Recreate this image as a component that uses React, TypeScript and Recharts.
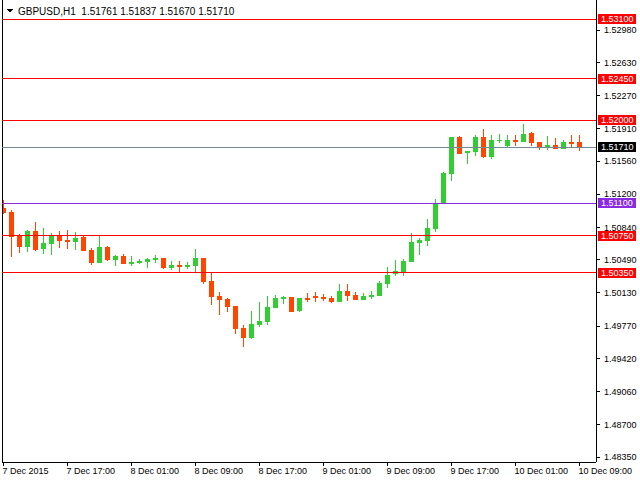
import React from 'react';
import { ComposedChart, Bar, XAxis, YAxis, ReferenceLine } from 'recharts';

// GBPUSD H1 candles, 7 Dec 09:00 .. 10 Dec 09:00
const timeLabels = [
  '7 Dec 2015', '7 Dec 17:00', '8 Dec 01:00', '8 Dec 09:00', '8 Dec 17:00',
  '9 Dec 01:00', '9 Dec 09:00', '9 Dec 17:00', '10 Dec 01:00', '10 Dec 09:00',
];

const opens = [
  1.51050, 1.51007, 1.50747, 1.50627, 1.50801, 1.50606, 1.50660, 1.50757, 1.50703, 1.50682,
  1.50736, 1.50595, 1.50454, 1.50627, 1.50486, 1.50530, 1.50443, 1.50454, 1.50465, 1.50486,
  1.50508, 1.50400, 1.50432, 1.50410, 1.50421, 1.50508, 1.50259, 1.50096, 1.50063, 1.49988,
  1.49749, 1.49640, 1.49781, 1.49814, 1.49966, 1.50063, 1.50085, 1.49933, 1.50074, 1.50096,
  1.50085, 1.50074, 1.50031, 1.50150, 1.50107, 1.50053, 1.50085, 1.50096, 1.50226, 1.50335,
  1.50345, 1.50465, 1.50671, 1.50692, 1.50823, 1.51094, 1.51419, 1.51820, 1.51647, 1.51658,
  1.51820, 1.51603, 1.51777, 1.51723, 1.51788, 1.51766, 1.51864, 1.51766, 1.51701, 1.51734,
  1.51690, 1.51766, 1.51761,
];
const highs = [
  1.51137, 1.51029, 1.50768, 1.50812, 1.50898, 1.50833, 1.50779, 1.50801, 1.50812, 1.50790,
  1.50747, 1.50616, 1.50757, 1.50638, 1.50541, 1.50551, 1.50530, 1.50497, 1.50508, 1.50541,
  1.50508, 1.50476, 1.50476, 1.50465, 1.50606, 1.50508, 1.50345, 1.50139, 1.50074, 1.49988,
  1.49781, 1.49933, 1.50031, 1.50096, 1.50107, 1.50096, 1.50085, 1.50074, 1.50129, 1.50139,
  1.50118, 1.50096, 1.50226, 1.50226, 1.50139, 1.50129, 1.50150, 1.50259, 1.50410, 1.50486,
  1.50497, 1.50779, 1.50725, 1.50931, 1.51148, 1.51441, 1.51820, 1.51831, 1.51668, 1.51842,
  1.51907, 1.51842, 1.51853, 1.51842, 1.51842, 1.51961, 1.51875, 1.51766, 1.51831, 1.51809,
  1.51788, 1.51842, 1.51837,
];
const lows = [
  1.50985, 1.50519, 1.50562, 1.50573, 1.50584, 1.50551, 1.50541, 1.50616, 1.50606, 1.50595,
  1.50584, 1.50432, 1.50454, 1.50476, 1.50421, 1.50443, 1.50421, 1.50443, 1.50400, 1.50454,
  1.50389, 1.50378, 1.50356, 1.50389, 1.50356, 1.50226, 1.49998, 1.49890, 1.49922, 1.49684,
  1.49543, 1.49630, 1.49760, 1.49781, 1.49966, 1.50009, 1.49922, 1.49922, 1.50031, 1.50031,
  1.50042, 1.50020, 1.50031, 1.50042, 1.50053, 1.50053, 1.50063, 1.50096, 1.50183, 1.50313,
  1.50313, 1.50465, 1.50541, 1.50638, 1.50790, 1.51094, 1.51343, 1.51636, 1.51527, 1.51614,
  1.51593, 1.51582, 1.51755, 1.51712, 1.51723, 1.51766, 1.51723, 1.51679, 1.51679, 1.51690,
  1.51690, 1.51701, 1.51670,
];
const closes = [
  1.50996, 1.50736, 1.50627, 1.50801, 1.50595, 1.50671, 1.50757, 1.50692, 1.50682, 1.50725,
  1.50584, 1.50454, 1.50627, 1.50486, 1.50530, 1.50443, 1.50465, 1.50476, 1.50497, 1.50508,
  1.50400, 1.50432, 1.50410, 1.50432, 1.50508, 1.50248, 1.50085, 1.50053, 1.49977, 1.49738,
  1.49640, 1.49792, 1.49825, 1.49977, 1.50074, 1.50085, 1.49922, 1.50074, 1.50053, 1.50074,
  1.50063, 1.50031, 1.50150, 1.50096, 1.50053, 1.50096, 1.50107, 1.50237, 1.50324, 1.50367,
  1.50476, 1.50682, 1.50703, 1.50833, 1.51105, 1.51430, 1.51820, 1.51636, 1.51668, 1.51820,
  1.51603, 1.51788, 1.51788, 1.51788, 1.51766, 1.51853, 1.51755, 1.51701, 1.51734, 1.51690,
  1.51766, 1.51744, 1.51710,
];

const priceTicks = [
  1.52980, 1.52630, 1.52270, 1.51910, 1.51560, 1.51200, 1.50840,
  1.50490, 1.50130, 1.49770, 1.49420, 1.49060, 1.48700, 1.48350,
];
const redLevels = [1.53100, 1.52450, 1.52000, 1.50750, 1.50350];
const purpleLevel = 1.51100;
const bidLevel = 1.51710;

const UP = '#32cd32';
const DOWN = '#ff4500';
const FONT = '"Liberation Sans", Arial, sans-serif';

const X_MIN = -0.1875;
const X_MAX = 74.0625;
const Y_MIN = 1.482958;
const Y_MAX = 1.533061;

const candles = opens.map((open, i) => ({
  idx: i,
  open,
  high: highs[i],
  low: lows[i],
  close: closes[i],
  range: [lows[i], highs[i]],
}));

const timeTicks = timeLabels.map((_, k) => k * 8);

const Candle = (props: any) => {
  const { x, y, width, height, payload } = props;
  if (x == null || y == null || !payload) return null;
  const { open, close, high, low } = payload;
  const span = high - low;
  const py = (p: number) => (span > 0 ? y + ((high - p) / span) * height : y);
  const cx = x + width / 2;
  const color = close >= open ? UP : DOWN;
  const top = Math.min(py(open), py(close));
  const h = Math.max(1, Math.abs(py(open) - py(close)));
  return (
    <g>
      <line x1={cx} x2={cx} y1={y} y2={y + height} stroke={color} strokeWidth={1} />
      <rect x={cx - 2.5} y={top} width={5} height={h} fill={color} />
    </g>
  );
};

const PriceTag = ({ viewBox, value, bg }: any) => {
  if (!viewBox) return null;
  const left = viewBox.x + viewBox.width + 2;
  const yy = viewBox.y;
  return (
    <g>
      <rect x={left} y={yy - 5} width={38} height={10} fill={bg} />
      <text x={left + 3} y={yy} dy="0.34em" fontSize={9} fontFamily={FONT} fill="#fff">
        {value.toFixed(5)}
      </text>
    </g>
  );
};

const TimeTick = (props: any) => {
  const { x, y, payload } = props;
  return (
    <text x={x - 1} y={y} dy="0.71em" fontSize={9} fontFamily={FONT} fill="#000" textAnchor="start">
      {timeLabels[payload.value / 8]}
    </text>
  );
};

export default function App() {
  return (
    <div
      style={{
        position: 'absolute',
        left: 0,
        top: 0,
        width: 640,
        height: 480,
        background: '#fff',
        shapeRendering: 'crispEdges',
      }}
    >
      <ComposedChart
        width={640}
        height={480}
        data={candles}
        margin={{ top: 0, right: 0, bottom: 0, left: 2 }}
      >
        <XAxis
          dataKey="idx"
          type="number"
          domain={[X_MIN, X_MAX]}
          allowDataOverflow
          ticks={timeTicks}
          interval={0}
          height={18}
          tickSize={4}
          tickMargin={2}
          axisLine={{ stroke: '#000' }}
          tickLine={{ stroke: '#000' }}
          tick={<TimeTick />}
        />
        <YAxis
          orientation="right"
          type="number"
          domain={[Y_MIN, Y_MAX]}
          allowDataOverflow
          ticks={priceTicks}
          interval={0}
          width={44}
          tickSize={4}
          tickMargin={4}
          axisLine={{ stroke: '#000' }}
          tickLine={{ stroke: '#000' }}
          tick={{ fill: '#000', fontSize: 9, fontFamily: FONT }}
          tickFormatter={(v: number) => v.toFixed(5)}
        />
        <ReferenceLine x={X_MIN} stroke="#000" ifOverflow="visible" />
        <ReferenceLine
          y={bidLevel}
          stroke="#778899"
          label={(p: any) => <PriceTag {...p} value={bidLevel} bg="#000" />}
        />
        <ReferenceLine
          y={purpleLevel}
          stroke="#8a2be2"
          label={(p: any) => <PriceTag {...p} value={purpleLevel} bg="#8a2be2" />}
        />
        {redLevels.map((lv) => (
          <ReferenceLine
            key={lv}
            y={lv}
            stroke="#ff0000"
            label={(p: any) => <PriceTag {...p} value={lv} bg="#ff0000" />}
          />
        ))}
        <Bar dataKey="range" barSize={8} shape={<Candle />} isAnimationActive={false} />
      </ComposedChart>
      <svg
        width={640}
        height={20}
        style={{ position: 'absolute', left: 0, top: 0, pointerEvents: 'none' }}
      >
        <polygon points="7,9 13,9 10,12.5" fill="#000" />
        <text x={18} y={15} fontSize={10} fontFamily={FONT} fill="#000" xmlSpace="preserve">
          {'GBPUSD,H1  ' + [opens[72], highs[72], lows[72], closes[72]].map((v) => v.toFixed(5)).join(' ')}
        </text>
      </svg>
    </div>
  );
}
